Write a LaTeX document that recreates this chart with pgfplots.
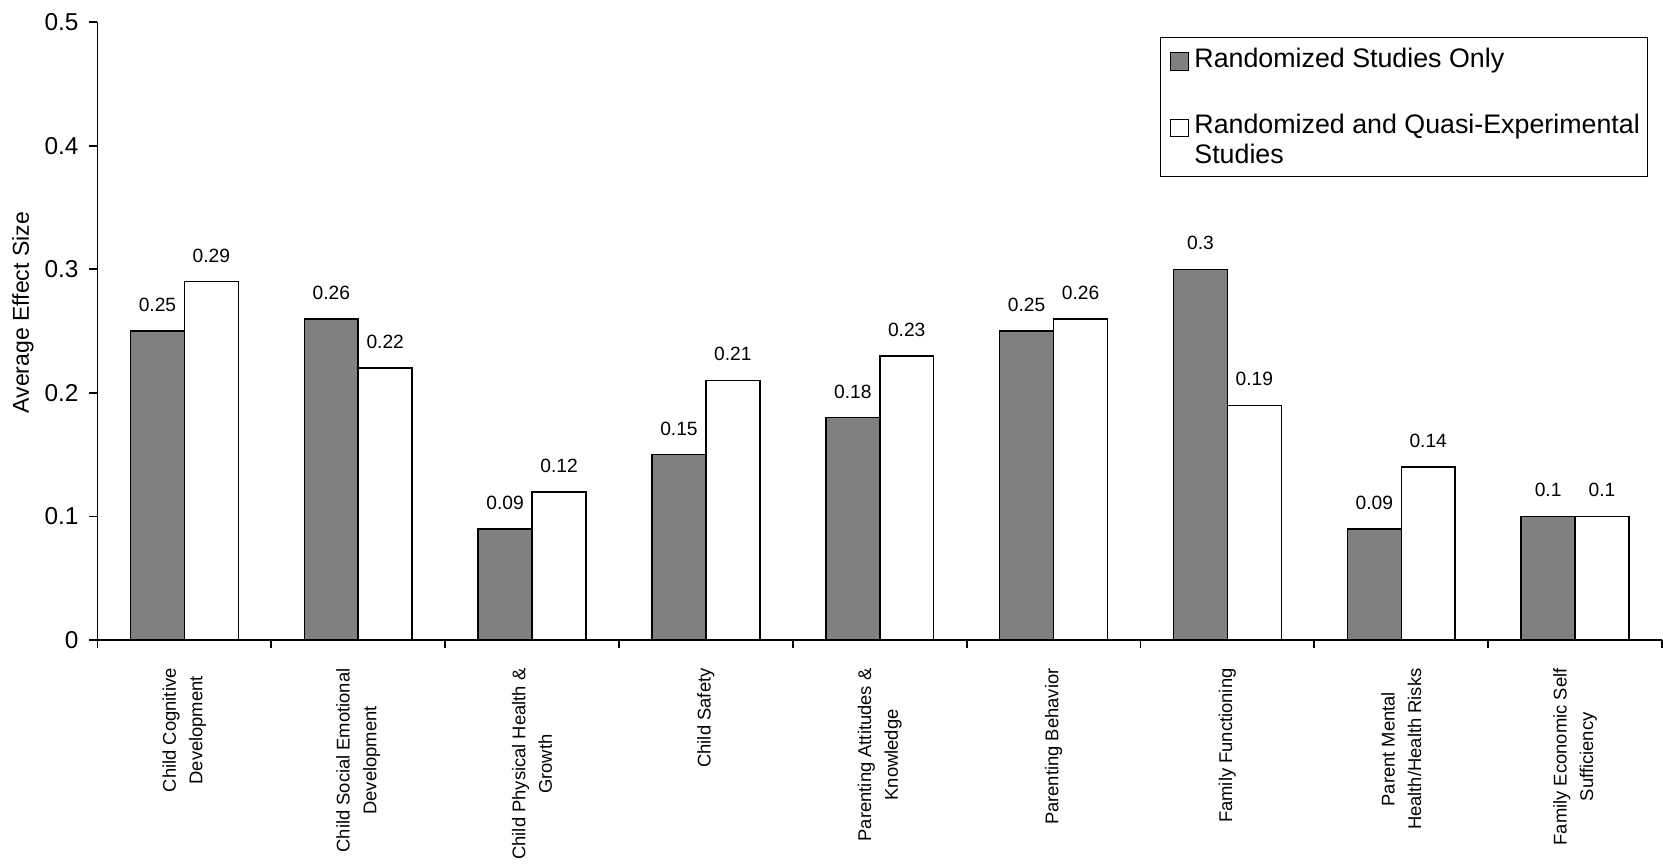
\documentclass[border=0pt]{standalone}
\usepackage{pgfplots}
\pgfplotsset{compat=1.18}
\usepackage{fontspec}
\setmainfont{Liberation Sans}
\definecolor{bargray}{RGB}{128,128,128}
\begin{document}
\begin{tikzpicture}
\begin{axis}[
  scale only axis,
  width=782.25pt, height=308.85pt,
  ybar=0pt, bar width=0.31,
  xmin=-0.5, xmax=8.5,
  ymin=0, ymax=0.5,
  clip=false,
  axis x line=bottom, axis y line=left,
  axis line style={line width=0.9pt, -},
  tick align=outside,
  major tick length=4pt,
  tick style={line width=0.9pt, black},
  ytick={0,0.1,0.2,0.3,0.4,0.5},
  yticklabel style={font=\fontsize{12.2}{14}\selectfont, xshift=-2pt},
  xtick={-0.5,0.5,1.5,2.5,3.5,4.5,5.5,6.5,7.5,8.5},
  xticklabels={,,,,,,,,,},
  extra x ticks={0,1,2,3,4,5,6,7,8},
  extra x tick labels={{Child Cognitive\\Development},{Child Social Emotional\\Development},{Child Physical Health \&\\Growth},{Child Safety},{Parenting Attitudes \&\\Knowledge},{Parenting Behavior},{Family Functioning},{Parent Mental\\Health/Health Risks},{Family Economic Self\\Sufficiency}},
  extra x tick style={major tick length=0pt, xticklabel style={rotate=90, anchor=east, align=center, inner sep=0pt, font=\fontsize{9.2}{13.3}\selectfont}},
  xticklabel shift=14pt,
  /pgf/number format/fixed,
  /pgf/number format/precision=2,
  /pgf/number format/assume math mode=true,
  ylabel={Average Effect Size},
  ylabel style={at={(axis description cs:-0.0476,0.53)}, anchor=center, font=\fontsize{11.5}{13}\selectfont},
  nodes near coords,
  every node near coord/.append style={font=\fontsize{9.6}{11}\selectfont, anchor=base, yshift=9.8pt, black},
  legend style={at={(axis description cs:0.679,0.976)}, anchor=north west, draw=black, line width=0.6pt,
    font=\fontsize{13.4}{15}\selectfont, cells={anchor=base west, align=left}, row sep=18pt,
    inner xsep=2pt, inner ysep=3pt},
]
\addplot[fill=bargray, draw=black, line width=0.75pt,
  legend image code/.code={\path[draw=none, fill=none] (0pt,0pt) rectangle (13pt,0.1pt);\draw[fill=bargray, draw=black, line width=0.6pt] (3.1pt,-1.65pt) rectangle (11.95pt,7.2pt);}]
  coordinates {(0,0.25) (1,0.26) (2,0.09) (3,0.15) (4,0.18) (5,0.25) (6,0.3) (7,0.09) (8,0.1)};
\addlegendentry{Randomized Studies Only}
\addplot[fill=white, draw=black, line width=0.75pt,
  legend image code/.code={\path[draw=none, fill=none] (0pt,0pt) rectangle (13pt,0.1pt);\draw[fill=white, draw=black, line width=0.6pt] (3.1pt,13.35pt) rectangle (11.95pt,22.2pt);}]
  coordinates {(0,0.29) (1,0.22) (2,0.12) (3,0.21) (4,0.23) (5,0.26) (6,0.19) (7,0.14) (8,0.1)};
\addlegendentry{Randomized and Quasi-Experimental\\Studies}
\end{axis}
\pgfresetboundingbox
\path (-48.75pt,-112pt) rectangle (782.75pt,320pt);
\end{tikzpicture}
\end{document}
